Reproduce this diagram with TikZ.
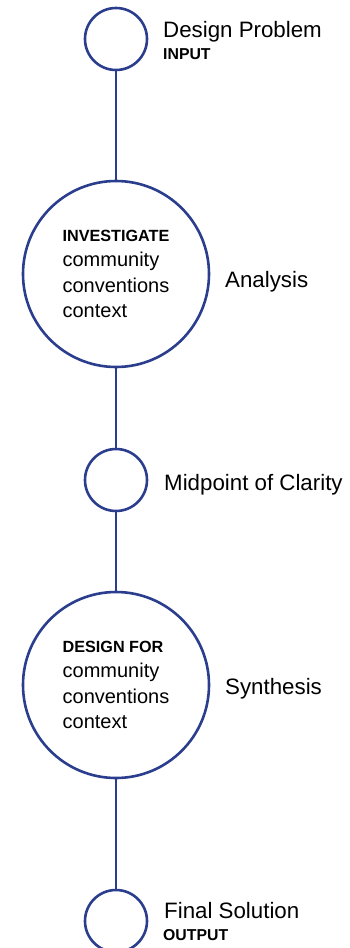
\documentclass[tikz,border=0pt]{standalone}
\usepackage{fontspec}
\setmainfont{Liberation Sans}
\usetikzlibrary{positioning}
\definecolor{flowblue}{HTML}{2B3E8E}
\tikzset{
  stage/.style={circle, draw=flowblue, line width=2.6pt, fill=white, inner sep=0pt, minimum size=62pt},
  hub/.style={stage, minimum size=186pt, align=left, font=\fontsize{20}{25.5}\selectfont},
  tag/.style={inner sep=0pt, anchor=base west, font=\fontsize{22.3}{26}\selectfont},
  subtag/.style={inner sep=0pt, anchor=base west, font=\fontsize{15.8}{18}\selectfont\bfseries},
  link/.style={draw=flowblue, line width=2.6pt}
}
\newcommand{\hubhead}[1]{{\fontsize{16.2}{25.5}\selectfont\bfseries #1}}
\begin{document}
\begin{tikzpicture}[x=1pt, y=1pt]
      \useasboundingbox (0,0) rectangle (350,-948);
      % Stages
      \node[stage] (problem) at (116,-39) {};
      \node[hub] (analysis) at (116,-274) {\hubhead{INVESTIGATE}\\community\\conventions\\context};
      \node[stage] (midpoint) at (116,-480) {};
      \node[hub] (synthesis) at (116,-685) {\hubhead{DESIGN FOR}\\community\\conventions\\context};
      \node[stage] (solution) at (116,-921) {};
      % Connectors
      \draw[link] (problem) -- (analysis);
      \draw[link] (analysis) -- (midpoint);
      \draw[link] (midpoint) -- (synthesis);
      \draw[link] (synthesis) -- (solution);
      % Labels
      \node[tag] (problemtag) at (163,-37) {Design Problem};
      \node[subtag] (inputtag) at (163,-59) {INPUT};
      \node[tag] (analysistag) at (225,-287) {Analysis};
      \node[tag] (midpointtag) at (164,-490) {Midpoint of Clarity};
      \node[tag] (synthesistag) at (225,-694) {Synthesis};
      \node[tag] (solutiontag) at (164,-918) {Final Solution};
      \node[subtag] (outputtag) at (163,-940) {OUTPUT};
    \end{tikzpicture}
\end{document}
